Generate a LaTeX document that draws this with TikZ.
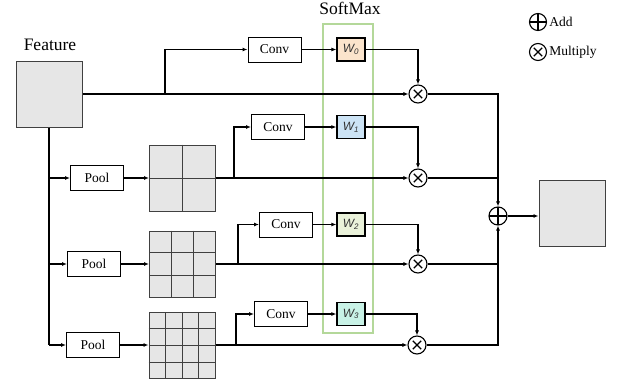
\documentclass[tikz,border=0pt]{standalone}
\usepackage{fontspec}
\setmainfont{Liberation Serif}
\newfontfamily\wsans{Liberation Sans}
\usetikzlibrary{arrows.meta,calc}
\definecolor{wpeach}{HTML}{FBE4CC}
\definecolor{wblue}{HTML}{CCE3F5}
\definecolor{wlime}{HTML}{EAF2DA}
\definecolor{wmint}{HTML}{C8F2E6}
\definecolor{softgreen}{HTML}{B4D89A}
\definecolor{mapfill}{HTML}{E6E6E6}
\tikzset{
    fmap/.style = {
        draw=black!75,
        fill=mapfill,
        line width=1pt,
        minimum width=66pt,
        minimum height=66pt,
        inner sep=0pt
    },
    op/.style = {
        draw,
        line width=1pt,
        minimum width=53pt,
        minimum height=25pt,
        inner sep=0pt,
        font=\fontsize{13.5}{16}\selectfont
    },
    weight/.style = {
        draw,
        line width=1.2pt,
        fill=#1,
        minimum width=28pt,
        minimum height=23pt,
        inner sep=0pt,
        font=\wsans\fontsize{12}{14}\selectfont\itshape\color{black!80}
    },
    mult/.style = {
        circle,
        draw,
        line width=1.1pt,
        minimum size=18pt,
        inner sep=0pt,
        path picture={
            \draw[line width=1.3pt]
                ([shift={(-4.2pt,4.2pt)}]path picture bounding box.center) --
                ([shift={(4.2pt,-4.2pt)}]path picture bounding box.center)
                ([shift={(-4.2pt,-4.2pt)}]path picture bounding box.center) --
                ([shift={(4.2pt,4.2pt)}]path picture bounding box.center);
        }
    },
    plus/.style = {
        circle,
        draw,
        line width=1.1pt,
        minimum size=18pt,
        inner sep=0pt,
        path picture={
            \draw[line width=1.3pt]
                (path picture bounding box.north) -- (path picture bounding box.south)
                (path picture bounding box.west) -- (path picture bounding box.east);
        }
    },
    gridline/.style = {
        draw=black!75,
        line width=1pt
    },
    wire/.style = {
        line width=1.3pt
    },
    flow/.style = {
        line width=1.3pt,
        -{Latex[length=5pt,width=4pt]}
    },
    title/.style = {
        font=\fontsize{17.5}{20}\selectfont
    },
    keytext/.style = {
        anchor=west,
        inner sep=2pt,
        font=\fontsize{13.5}{16}\selectfont
    }
}

\begin{document}
\begin{tikzpicture}[x=1pt,y=1pt]
    \useasboundingbox (0,0) rectangle (627,-383);

    % SoftMax column
    \node[draw=softgreen, line width=1.3pt, minimum width=50pt, minimum height=309pt] (softmax) at (348,-178.5) {};
    \node[title] (softlabel) at (350,-8) {SoftMax};

    % Draw feature maps
    \node[title] (featlabel) at (50,-45) {Feature};
    \node[fmap] (feat) at (49,-94) {};
    \node[fmap] (grid1) at (182.5,-178) {};
    \node[fmap] (grid2) at (182.5,-264) {};
    \node[fmap] (grid3) at (182,-345.5) {};
    \node[fmap] (out) at (572,-213) {};

    \foreach \i in {1} {
        \draw[gridline] ($(grid1.north west)!\i/2!(grid1.north east)$) -- ($(grid1.south west)!\i/2!(grid1.south east)$);
        \draw[gridline] ($(grid1.north west)!\i/2!(grid1.south west)$) -- ($(grid1.north east)!\i/2!(grid1.south east)$);
    }
    \foreach \i in {1,2} {
        \draw[gridline] ($(grid2.north west)!\i/3!(grid2.north east)$) -- ($(grid2.south west)!\i/3!(grid2.south east)$);
        \draw[gridline] ($(grid2.north west)!\i/3!(grid2.south west)$) -- ($(grid2.north east)!\i/3!(grid2.south east)$);
    }
    \foreach \i in {1,2,3} {
        \draw[gridline] ($(grid3.north west)!\i/4!(grid3.north east)$) -- ($(grid3.south west)!\i/4!(grid3.south east)$);
        \draw[gridline] ($(grid3.north west)!\i/4!(grid3.south west)$) -- ($(grid3.north east)!\i/4!(grid3.south east)$);
    }

    % Draw operations
    \node[op] (pool1) at (97,-178) {Pool};
    \node[op] (pool2) at (94,-264) {Pool};
    \node[op] (pool3) at (93,-345) {Pool};

    \node[op] (conv0) at (274.5,-49.5) {Conv};
    \node[op] (conv1) at (278,-127) {Conv};
    \node[op] (conv2) at (286,-224.5) {Conv};
    \node[op] (conv3) at (281,-314) {Conv};

    \node[weight=wpeach] (w0) at (351,-49.5) {W\textsubscript{0}};
    \node[weight=wblue] (w1) at (351,-127) {W\textsubscript{1}};
    \node[weight=wlime] (w2) at (351,-224.5) {W\textsubscript{2}};
    \node[weight=wmint] (w3) at (351,-314) {W\textsubscript{3}};

    \node[mult] (mul0) at (418,-94) {};
    \node[mult] (mul1) at (418,-178) {};
    \node[mult] (mul2) at (418,-264) {};
    \node[mult] (mul3) at (417,-345) {};
    \node[plus] (add) at (498,-216) {};

    % Draw legend
    \node[plus, minimum size=17pt] (addkey) at (538,-22) {};
    \node[keytext] (addtext) at (addkey.east) {Add};
    \node[mult, minimum size=17pt] (mulkey) at (538,-52) {};
    \node[keytext] (multext) at (mulkey.east) {Multiply};

    % Draw arrows
    \coordinate (b0) at (165,-94);
    \coordinate (b1) at (234,-178);
    \coordinate (b2) at (238,-264);
    \coordinate (b3) at (236,-345);

    \draw[flow] (feat.east) -- (mul0);
    \draw[flow] (b0) |- (conv0);
    \draw[wire] (feat.south) -- (feat.south |- pool3);
    \draw[flow] (feat.south |- pool1) -- (pool1);
    \draw[flow] (feat.south |- pool2) -- (pool2);
    \draw[flow] (feat.south |- pool3) -- (pool3);
    %
    \draw[flow] (pool1) -- (grid1);
    \draw[flow] (pool2) -- (grid2);
    \draw[flow] (pool3) -- (grid3.west |- pool3);
    %
    \draw[flow] (grid1.east) -- (mul1);
    \draw[flow] (grid2.east) -- (mul2);
    \draw[flow] (grid3.east |- mul3) -- (mul3);
    \draw[flow] (b1) |- (conv1);
    \draw[flow] (b2) |- (conv2);
    \draw[flow] (b3) |- (conv3);
    %
    \draw[flow] (conv0) -- (w0);
    \draw[flow] (conv1) -- (w1);
    \draw[flow] (conv2) -- (w2);
    \draw[flow] (conv3) -- (w3);
    \draw[flow] (w0) -| (mul0);
    \draw[flow] (w1) -| (mul1);
    \draw[flow] (w2) -| (mul2);
    \draw[flow] (w3) -| (mul3);
    %
    \draw[flow] (mul0) -| (add);
    \draw[wire] (mul1) -- (add |- mul1);
    \draw[wire] (mul2) -- (add |- mul2);
    \draw[flow] (mul3) -| (add);
    \draw[flow] (add) -- (add -| out.west);
\end{tikzpicture}
\end{document}
